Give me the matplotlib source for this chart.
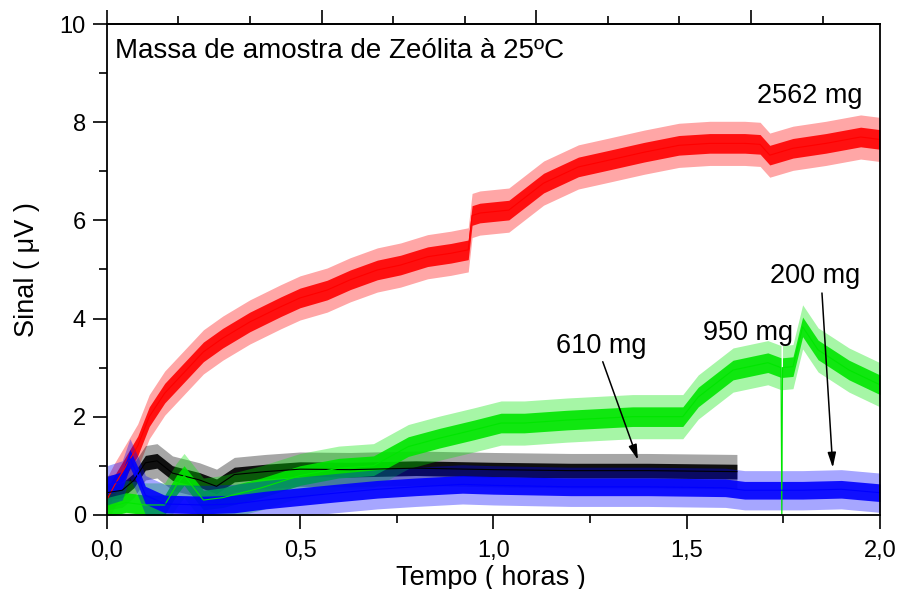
import matplotlib
matplotlib.use("Agg")
import matplotlib.pyplot as plt
from matplotlib.ticker import FuncFormatter, MultipleLocator

plt.rcParams["font.family"] = ["Liberation Sans", "DejaVu Sans"]

# 2562 mg (red)
red_t = [0.0, 0.02, 0.05, 0.08, 0.11, 0.15, 0.20, 0.25, 0.30, 0.37, 0.45, 0.50,
         0.57, 0.63, 0.70, 0.76, 0.83, 0.89, 0.935, 0.945, 0.965, 1.04, 1.13,
         1.22, 1.30, 1.39, 1.48, 1.56, 1.65, 1.69, 1.715, 1.775, 1.86, 1.95, 2.0]
red_v = [0.3, 0.6, 1.0, 1.4, 2.0, 2.48, 2.9, 3.32, 3.6, 3.93, 4.24, 4.42,
         4.58, 4.79, 4.99, 5.09, 5.26, 5.33, 5.4, 6.1, 6.15, 6.21, 6.76,
         7.09, 7.23, 7.39, 7.53, 7.57, 7.57, 7.55, 7.33, 7.47, 7.57, 7.7, 7.65]

# 950 mg (green)
green_t = [0.0, 0.05, 0.10, 0.15, 0.18, 0.20, 0.215, 0.25, 0.30, 0.40, 0.50,
           0.60, 0.69, 0.78, 0.86, 0.95, 1.02, 1.08, 1.19, 1.36, 1.49, 1.53,
           1.62, 1.71, 1.744, 1.746, 1.748, 1.775, 1.80, 1.84, 1.92, 2.0]
green_v = [0.15, 0.25, 0.2, 0.2, 0.6, 0.8, 0.65, 0.3, 0.35, 0.55, 0.8,
           0.95, 1.0, 1.39, 1.56, 1.73, 1.87, 1.87, 1.93, 2.0, 2.0, 2.4,
           2.95, 3.1, 3.0, 0.0, 3.0, 3.02, 3.83, 3.36, 2.95, 2.65]

# 610 mg (black)
black_t = [0.0, 0.04, 0.07, 0.10, 0.13, 0.17, 0.24, 0.284, 0.33, 0.41, 0.50,
           0.63, 0.80, 1.0, 1.2, 1.4, 1.63]
black_v = [0.45, 0.5, 0.7, 1.06, 1.1, 0.85, 0.71, 0.58, 0.82, 0.88, 0.93,
           0.92, 0.95, 0.92, 0.9, 0.9, 0.88]

# 200 mg (blue)
blue_t = [0.0, 0.04, 0.06, 0.08, 0.10, 0.15, 0.25, 0.33, 0.41, 0.50, 0.59,
          0.70, 0.80, 0.92, 1.0, 1.2, 1.4, 1.6, 1.65, 1.7, 1.8, 1.9, 2.0]
blue_v = [0.6, 0.7, 1.15, 0.8, 0.4, 0.22, 0.2, 0.22, 0.3, 0.37, 0.44,
          0.52, 0.57, 0.62, 0.6, 0.57, 0.57, 0.55, 0.5, 0.5, 0.5, 0.52, 0.45]

# noise half-widths (core, spikes)
red_noise = (0.2, 0.45)
green_noise = (0.2, 0.45)
black_noise = (0.15, 0.35)
blue_noise = (0.18, 0.4)

series = [
    (red_t, red_v, red_noise, "#ff0000"),
    (black_t, black_v, black_noise, "#000000"),
    (green_t, green_v, green_noise, "#00e600"),
    (blue_t, blue_v, blue_noise, "#0000ff"),
]

fig = plt.figure(figsize=(8.97, 5.89), dpi=100)
ax = fig.add_axes([0.119, 0.126, 0.862, 0.833])

for t, v, (core, spike), color in series:
    lo_out = [y - spike for y in v]
    hi_out = [y + spike for y in v]
    lo_in = [y - core for y in v]
    hi_in = [y + core for y in v]
    ax.fill_between(t, lo_out, hi_out, color=color, alpha=0.35, lw=0)
    ax.fill_between(t, lo_in, hi_in, color=color, alpha=0.9, lw=0)
    ax.plot(t, v, color=color, lw=0.8)

ax.set_xlim(0, 2.0)
ax.set_ylim(0, 10)
ax.xaxis.set_major_locator(MultipleLocator(0.5))
ax.xaxis.set_minor_locator(MultipleLocator(0.25))
ax.yaxis.set_major_locator(MultipleLocator(2))
ax.yaxis.set_minor_locator(MultipleLocator(1))
ax.xaxis.set_major_formatter(FuncFormatter(lambda x, p: f"{x:.1f}".replace(".", ",")))
ax.yaxis.set_major_formatter(FuncFormatter(lambda y, p: f"{y:.0f}"))
ax.tick_params(which="major", direction="out", length=10, width=1.2, labelsize=17)
ax.tick_params(which="minor", direction="out", length=6, width=1.2)
ax.tick_params(axis="x", pad=8)
ax.tick_params(axis="y", pad=5)
for s in ax.spines.values():
    s.set_linewidth(1.3)

# top axis in seconds (ticks only)
top = ax.secondary_xaxis("top", functions=(lambda h: h * 3600, lambda s: s / 3600))
top.xaxis.set_major_locator(MultipleLocator(2000))
top.xaxis.set_minor_locator(MultipleLocator(2000 / 3))
top.tick_params(which="major", direction="out", length=10, width=1.2, labeltop=False)
top.tick_params(which="minor", direction="out", length=6, width=1.2)
top.spines["top"].set_linewidth(1.3)

ax.set_xlabel("Tempo ( horas )", fontsize=19.5, va="center")
ax.xaxis.set_label_coords(0.497, -0.128)
ax.set_ylabel("Sinal ( \u03bcV )", fontsize=19.5, labelpad=14)

ax.text(0.011, 0.972, "Massa de amostra de Ze\u00f3lita \u00e0 25\u00baC", transform=ax.transAxes,
        fontsize=20, va="top", ha="left")

ax.text(1.818, 8.53, "2562 mg", fontsize=19.5, ha="center", va="center")
ax.text(1.832, 4.87, "200 mg", fontsize=19.5, ha="center", va="center")
ax.text(1.658, 3.7, "950 mg", fontsize=19.5, ha="center", va="center")
ax.text(1.278, 3.44, "610 mg", fontsize=19.5, ha="center", va="center")

arrow = dict(arrowstyle="-|>,head_length=0.9,head_width=0.25", color="black", lw=1.1,
             shrinkA=0, shrinkB=0)
ax.annotate("", xy=(1.374, 1.12), xytext=(1.283, 3.12), arrowprops=arrow)
ax.annotate("", xy=(1.878, 0.96), xytext=(1.85, 4.52), arrowprops=arrow)

fig.savefig("out.png", dpi=100)
